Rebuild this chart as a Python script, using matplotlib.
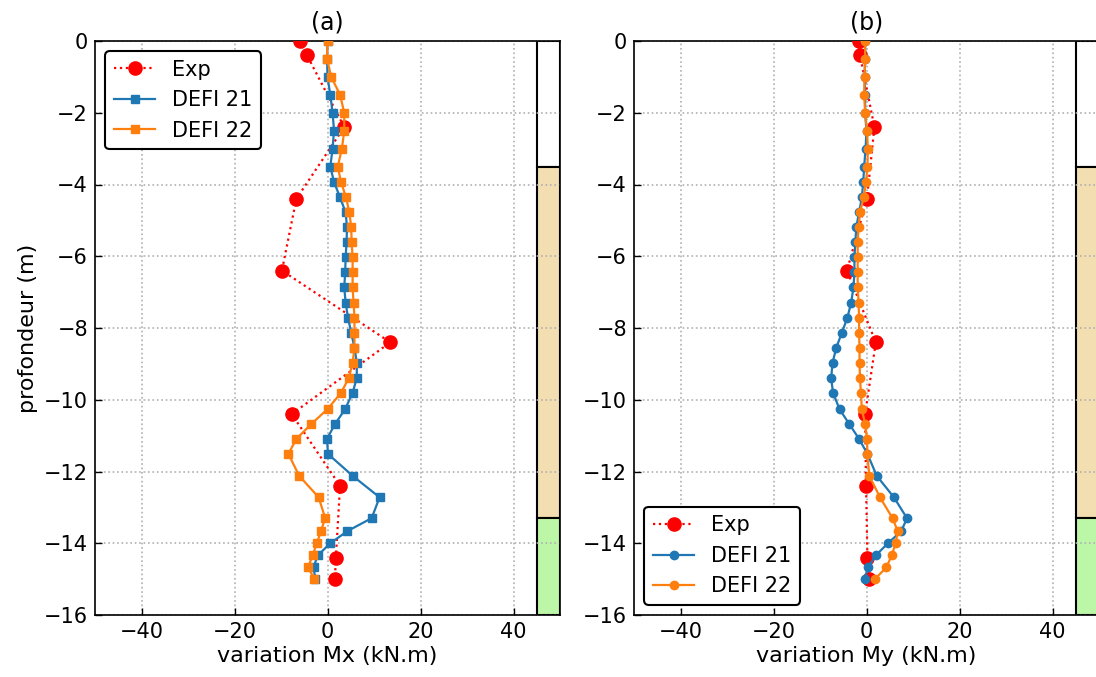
import matplotlib
matplotlib.use("Agg")
import matplotlib.pyplot as plt
from matplotlib.patches import Rectangle

# Depths (m)
depth_model = [0, -0.5, -1.0, -1.5, -2.0, -2.5, -3.0, -3.5, -3.93, -4.36, -4.78, -5.19,
               -5.61, -6.03, -6.45, -6.87, -7.29, -7.71, -8.13, -8.55, -8.97, -9.39,
               -9.81, -10.26, -10.68, -11.09, -11.51, -12.12, -12.72, -13.3, -13.66,
               -14.0, -14.34, -14.67, -15.0]
depth_exp = [0, -0.4, -2.4, -4.4, -6.4, -8.4, -10.4, -12.4, -14.4, -15.0]

# Panel (a): variation Mx (kN.m)
mx_exp = [-6.0, -4.4, 3.6, -6.7, -9.8, 13.5, -7.7, 2.7, 1.8, 1.6]
mx_defi21 = [0.0, -0.1, 0.0, 0.6, 1.1, 1.4, 1.1, 0.6, 1.4, 2.7, 3.9, 4.2,
             4.1, 3.9, 3.8, 3.6, 3.9, 4.4, 5.1, 5.8, 6.3, 6.3,
             5.4, 3.8, 1.6, -0.1, 0.1, 5.4, 11.2, 9.5, 4.3,
             0.6, -2.1, -3.0, -2.6]
mx_defi22 = [0.0, -0.1, 0.8, 2.7, 3.6, 3.6, 3.1, 2.2, 2.9, 4.0, 4.7, 5.1,
             5.2, 5.4, 5.4, 5.4, 5.6, 5.8, 5.8, 5.8, 5.4, 4.6,
             2.9, 0.0, -3.5, -6.7, -8.4, -6.1, -1.9, -0.5, -1.4,
             -2.3, -3.2, -4.2, -2.8]

# Panel (b): variation My (kN.m)
my_exp = [-1.7, -1.4, 1.7, 0.1, -4.2, 2.0, -0.3, -0.1, 0.2, 0.6]
my_defi21 = [-0.3, -0.3, -0.4, -0.3, -0.3, 0.0, -0.2, -0.5, -0.7, -1.0, -1.6, -2.2,
             -2.4, -2.6, -2.6, -2.8, -3.3, -4.1, -5.3, -6.5, -7.3, -7.6,
             -7.2, -5.8, -3.7, -1.6, 0.2, 2.2, 5.9, 8.7, 7.5,
             4.6, 2.0, 0.3, -0.4]
my_defi22 = [-0.3, -0.3, -0.4, -0.5, -0.3, 0.1, 0.3, 0.2, -0.1, -0.6, -1.4, -1.7,
             -1.9, -1.9, -1.9, -1.9, -1.7, -1.6, -1.6, -1.5, -1.5, -1.4,
             -1.2, -1.0, -0.3, 0.1, 0.2, 0.6, 2.9, 5.6, 6.7,
             6.3, 5.4, 4.3, 1.8]

# Soil layers (top, bottom, colour)
layer_tops = [0, -3.5, -13.3]
layer_bottoms = [-3.5, -13.3, -16]
layer_colors = ["white", "#f3deb1", "#bcf7a8"]

titles = ["(a)", "(b)"]
xlabels = ["variation Mx (kN.m)", "variation My (kN.m)"]

plt.rcParams['font.family'] = ['DejaVu Sans']
fig = plt.figure(figsize=(10.96, 6.77), dpi=100)
axa = fig.add_axes([95/1096, 62/677, 465/1096, 574/677])
axb = fig.add_axes([634/1096, 62/677, 465/1096, 574/677])

blue = "#1f77b4"
orange = "#ff7f0e"

panels = [
    (axa, mx_exp, mx_defi21, mx_defi22, "s", "upper left"),
    (axb, my_exp, my_defi21, my_defi22, "o", "lower left"),
]

for i, (ax, ex, d21, d22, mk, loc) in enumerate(panels):
    ax.plot(ex, depth_exp, ':', color='red', marker='o', markersize=9.5, lw=1.6, label='Exp', zorder=3)
    ax.plot(d21, depth_model, '-', color=blue, marker=mk, markersize=6, lw=1.6, label='DEFI 21', zorder=3)
    ax.plot(d22, depth_model, '-', color=orange, marker=mk, markersize=6, lw=1.6, label='DEFI 22', zorder=3)
    for t, b, c in zip(layer_tops, layer_bottoms, layer_colors):
        ax.add_patch(Rectangle((45, b), 5, t - b, facecolor=c, edgecolor='black', lw=1.5, zorder=1))
    ax.set_xlim(-50, 50)
    ax.set_ylim(-16, 0)
    ax.set_xticks([-40, -20, 0, 20, 40])
    ax.set_yticks(range(-16, 1, 2))
    ax.grid(True, linestyle=':', color='#b0b0b0', lw=1.2)
    ax.tick_params(direction='in', labelsize=15, length=5, width=1, pad=5)
    ax.set_title(titles[i], fontsize=17, pad=8)
    ax.set_xlabel(xlabels[i], fontsize=16, labelpad=3)
    for s in ax.spines.values():
        s.set_linewidth(1.2)
    leg = ax.legend(loc=loc, fontsize=15, frameon=True, fancybox=True, framealpha=1,
                    edgecolor='black', handlelength=2.0, borderaxespad=0.5)
    leg.get_frame().set_linewidth(1.5)

axa.set_ylabel("profondeur (m)", fontsize=16, labelpad=4)

fig.savefig("out.png", dpi=100)
